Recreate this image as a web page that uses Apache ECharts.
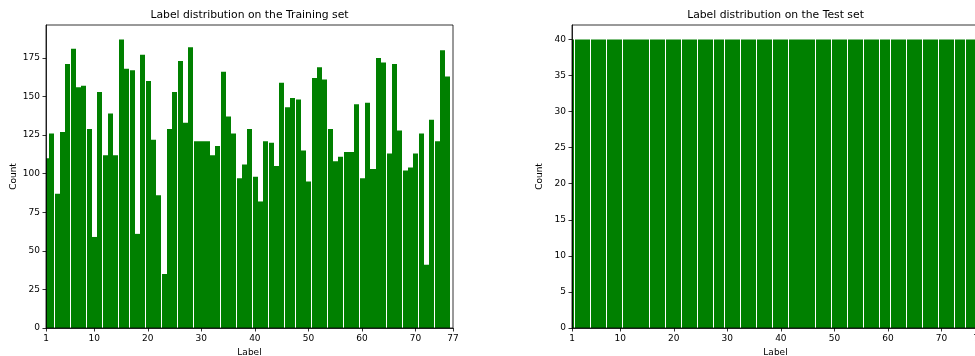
<!DOCTYPE html>
<html><head><meta charset="utf-8">
<script src="https://cdn.jsdelivr.net/npm/echarts@6/dist/echarts.min.js"></script>
<style>html,body{margin:0;padding:0;background:#fff}#c{width:975px;height:356px}</style>
</head><body><div id="c"></div>
<script>
// ---- data ----
const trainLabels = [1,2,3,4,5,6,7,8,9,10,11,12,13,14,15,16,17,18,19,20,21,22,23,24,25,26,27,28,29,30,31,32,33,34,35,36,37,38,39,40,41,42,43,44,45,46,47,48,49,50,51,52,53,54,55,56,57,58,59,60,61,62,63,64,65,66,67,68,69,70,71,72,73,74,75,76];
const trainCounts = [110,126,87,127,171,181,156,157,129,59,153,112,139,112,187,168,167,61,177,160,122,86,35,129,153,173,133,182,121,121,121,112,118,166,137,126,97,106,129,98,82,121,120,105,159,143,149,148,115,95,162,169,161,129,108,111,114,114,145,97,146,103,175,172,113,171,128,102,104,113,126,41,135,121,180,163];
const testLabels = [1,2,3,4,5,6,7,8,9,10,11,12,13,14,15,16,17,18,19,20,21,22,23,24,25,26,27,28,29,30,31,32,33,34,35,36,37,38,39,40,41,42,43,44,45,46,47,48,49,50,51,52,53,54,55,56,57,58,59,60,61,62,63,64,65,66,67,68,69,70,71,72,73,74,75,76];
const testCounts = [40,40,40,40,40,40,40,40,40,40,40,40,40,40,40,40,40,40,40,40,40,40,40,40,40,40,40,40,40,40,40,40,40,40,40,40,40,40,40,40,40,40,40,40,40,40,40,40,40,40,40,40,40,40,40,40,40,40,40,40,40,40,40,40,40,40,40,40,40,40,40,40,40,40,40,40];
const xTickValues = [1,10,20,30,40,50,60,70,77];
const trainYTicks = [0,25,50,75,100,125,150,175];
const testYTicks = [0,5,10,15,20,25,30,35,40];
const trainYMax = 196.35;
const testYMax = 42;
const xMin = 1, xMax = 77;
const titles = ['Label distribution on the Training set', 'Label distribution on the Test set'];

// ---- chart ----
const FONT = 'DejaVu Sans';
const GREEN = '#008000';
const chart = echarts.init(document.getElementById('c'), null, {renderer:'canvas', width:975, height:356});

// bars span [label-0.5, label+0.5]; edges snapped to whole pixels (phase s) like the raster reference
function makeBarItem(s) {
  return function (params, api) {
    const x = api.value(0), y = api.value(1);
    const lo = api.coord([x - 0.5, 0]);
    const hi = api.coord([x + 0.5, y]);
    const cs = params.coordSys;
    let x0 = Math.floor(lo[0] - s) + 1;
    let x1 = Math.floor(hi[0] - s + 2/3);
    x0 = Math.max(x0, cs.x);
    x1 = Math.min(x1, cs.x + cs.width);
    if (x1 <= x0) return null;
    return {type:'rect', shape:{x:x0, y:hi[1], width:x1 - x0, height:lo[1] - hi[1]}, style:{fill:GREEN}};
  };
}

const textStyle = {fontSize:9, color:'#000', fontFamily:FONT};
function xAxis(gi) {
  return {type:'value', gridIndex:gi, min:xMin, max:xMax, name:'Label', nameLocation:'middle', nameGap:17,
    nameTextStyle:textStyle,
    axisLine:{show:true, onZero:false, lineStyle:{color:'#000', width:0.8}},
    axisTick:{show:true, length:3.5, lineStyle:{color:'#000', width:0.8}, customValues:xTickValues},
    axisLabel:Object.assign({customValues:xTickValues, margin:6, hideOverlap:false}, textStyle),
    splitLine:{show:false}, z:3};
}
function yAxis(gi, ticks, max) {
  return {type:'value', gridIndex:gi, min:0, max:max, name:'Count', nameLocation:'middle', nameGap:28, nameRotate:90,
    nameTextStyle:textStyle,
    axisLine:{show:true, onZero:false, lineStyle:{color:'#000', width:0.8}},
    axisTick:{show:true, length:3.5, lineStyle:{color:'#000', width:0.8}, customValues:ticks},
    axisLabel:Object.assign({customValues:ticks, margin:6}, textStyle),
    splitLine:{show:false}, z:3};
}
function title(text, cx) {
  return {text:text, left:cx, top:10, textAlign:'center', padding:0,
    textStyle:{fontSize:10.8, fontWeight:'normal', color:'#000', fontFamily:FONT}};
}

chart.setOption({
  animation:false,
  backgroundColor:'#fff',
  title:[title(titles[0], 249.5), title(titles[1], 775.5)],
  grid:[
    {left:46, top:25, width:407, height:303, show:true, borderColor:'#000', borderWidth:0.8, z:3,
     containLabel:false, outerBoundsMode:'none'},
    {left:572, top:25, width:407, height:303, show:true, borderColor:'#000', borderWidth:0.8, z:3,
     containLabel:false, outerBoundsMode:'none'}
  ],
  xAxis:[xAxis(0), xAxis(1)],
  yAxis:[yAxis(0, trainYTicks, trainYMax), yAxis(1, testYTicks, testYMax)],
  series:[
    {type:'custom', xAxisIndex:0, yAxisIndex:0, z:1, renderItem:makeBarItem(0), encode:{x:0, y:1},
     data:trainLabels.map((l, i) => [l, trainCounts[i]])},
    {type:'custom', xAxisIndex:1, yAxisIndex:1, z:1, renderItem:makeBarItem(0.6), encode:{x:0, y:1},
     data:testLabels.map((l, i) => [l, testCounts[i]])}
  ]
});
</script></body></html>
